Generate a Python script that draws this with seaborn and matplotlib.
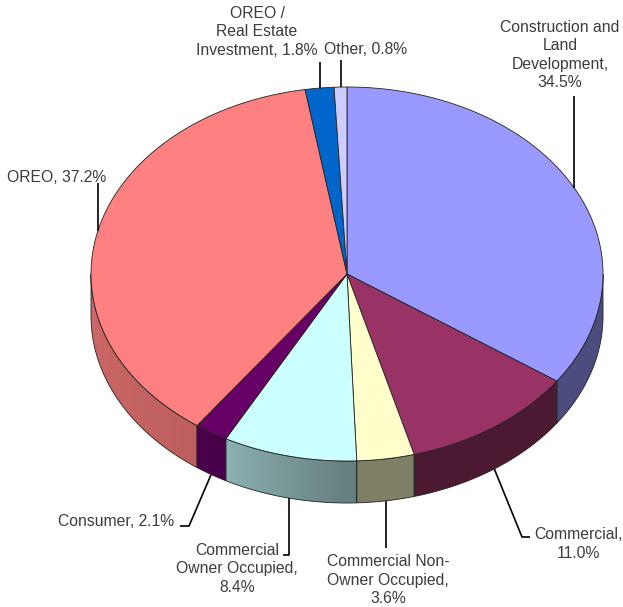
import numpy as np
import matplotlib
matplotlib.use("Agg")
import matplotlib.pyplot as plt
from matplotlib.patches import Polygon
import seaborn as sns

# Loan portfolio breakdown (percent of total)
categories = [
    "Construction and\nLand\nDevelopment",
    "Commercial",
    "Commercial Non-\nOwner Occupied",
    "Commercial\nOwner Occupied",
    "Consumer",
    "OREO",
    "OREO /\nReal Estate\nInvestment",
    "Other",
]
shares = [34.5, 11.0, 3.6, 8.4, 2.1, 37.2, 1.8, 0.8]
value_breaks = ["\n", "\n", "\n", "\n", " ", " ", " ", " "]
slice_colors = ["#9999FF", "#993366", "#FFFFCC", "#CCFFFF",
                "#660066", "#FF8080", "#0066CC", "#CCCCFF"]

sns.set_theme(style="white")
plt.rcParams["font.family"] = ["Liberation Sans", "DejaVu Sans"]
palette = sns.color_palette(slice_colors)

# 3-D pie geometry in pixel space
W, H = 623, 607
CX, CY = 347.0, 274.0
RX, RY = 256.0, 187.0
DEPTH = 42.0
START = 90.0
EDGE = "#222222"

fig = plt.figure(figsize=(W / 100, H / 100), dpi=100)
ax = fig.add_axes([0, 0, 1, 1])
ax.set_xlim(0, W)
ax.set_ylim(H, 0)
ax.axis("off")


def rim(theta_deg, drop=0.0):
    t = np.radians(theta_deg)
    return CX + RX * np.cos(t), CY - RY * np.sin(t) + drop


def side_shade(theta_deg):
    return np.interp(theta_deg, [-180, -125, -90, 0], [0.82, 0.74, 0.5, 0.5])


total = float(sum(shares))
spans = [s / total * 360.0 for s in shares]
bounds = []
t = START
for sp in spans:
    bounds.append((t - sp, t))
    t -= sp

# side walls (front half only), shaded by facing angle
for (lo, hi), col in zip(bounds, palette):
    a, b = max(lo, -180.0), min(hi, 0.0)
    if a >= b:
        continue
    steps = np.linspace(a, b, max(3, int((b - a) / 0.5) + 2))
    xs, ys = rim(steps)
    outline = list(zip(xs, ys)) + list(zip(xs[::-1], (ys + DEPTH)[::-1]))
    x0, x1 = xs.min(), xs.max()
    y0, y1 = ys.min(), ys.max() + DEPTH
    gx = np.linspace(x0, x1, 300)
    gth = -np.degrees(np.arccos(np.clip((gx - CX) / RX, -1, 1)))
    img = np.clip(np.array(col)[None, :] * side_shade(gth)[:, None], 0, 1)[None, :, :]
    im = ax.imshow(img, extent=(x0 - 0.5, x1 + 0.5, y1 + 0.5, y0 - 0.5),
                   aspect="auto", interpolation="bilinear", zorder=1)
    clip = Polygon(outline, closed=True, transform=ax.transData)
    im.set_clip_path(clip)
    ax.add_patch(Polygon(outline, closed=True, fill=False, edgecolor=EDGE, lw=0.6, zorder=2))

ax.set_xlim(0, W)
ax.set_ylim(H, 0)

# top faces
for (lo, hi), col in zip(bounds, palette):
    th = np.linspace(hi, lo, max(3, int((hi - lo) / 0.5) + 2))
    xs, ys = rim(th)
    pts = [(CX, CY)] + list(zip(xs, ys))
    ax.add_patch(Polygon(pts, closed=True, facecolor=col, edgecolor=EDGE, lw=0.6, zorder=3))

# label placement and leader routing
label_pos = [(560, 55, "center"), (578, 544, "center"), (388, 580, "center"),
             (237, 569, "center"), (174, 521, "right"), (7, 178, "left"),
             (257, 32, "center"), (324, 50, "left")]
leaders = [
    [(None, 96)],
    [(522, 537), (530, 537)],
    [(None, 548)],
    [(None, 555), (283, 555)],
    [(189, 526), (180, 526)],
    [(None, 183)],
    [(None, 62)],
    [(None, 60)],
]

for (lo, hi), name, val, brk, (lx, ly, ha), path in zip(
        bounds, categories, shares, value_breaks, label_pos, leaders):
    mid = 0.5 * (lo + hi)
    s = np.sin(np.radians(mid))
    ax_, ay_ = rim(mid, DEPTH if s < 0 else 0.0)
    px, py = [ax_], [ay_]
    for qx, qy in path:
        px.append(ax_ if qx is None else qx)
        py.append(qy)
    ax.plot(px, py, color="black", lw=1.2, solid_capstyle="butt", zorder=4)
    ax.text(lx, ly, f"{name},{brk}{val:.1f}%", ha=ha, va="center",
            multialignment="center", fontsize=11.3, color="#3c3c3c",
            linespacing=1.3, zorder=5)

fig.savefig("out.png", dpi=100, facecolor="white")
